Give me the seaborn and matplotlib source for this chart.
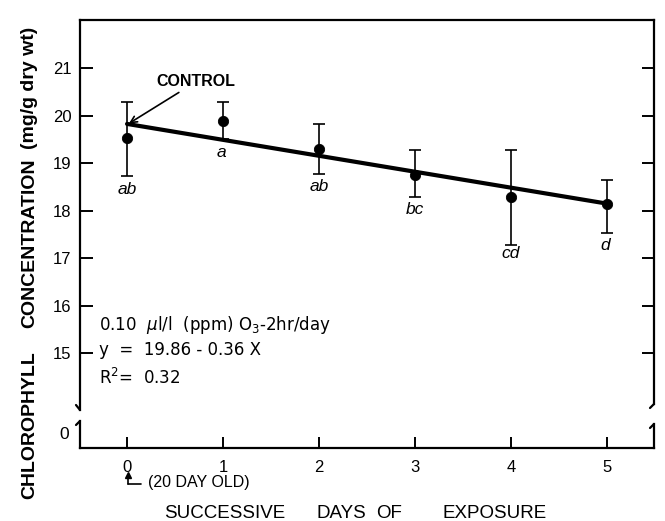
import matplotlib
matplotlib.use("Agg")
import matplotlib.pyplot as plt
from matplotlib.lines import Line2D
import seaborn as sns
import pandas as pd

# ---- data ----
days = [0, 1, 2, 3, 4, 5]
means = [19.54, 19.89, 19.30, 18.76, 18.29, 18.15]
err_hi = [20.30, 20.30, 19.83, 19.27, 19.29, 18.65]
err_lo = [18.74, 19.52, 18.78, 18.29, 17.27, 17.54]
letters = ["ab", "a", "ab", "bc", "cd", "d"]
letter_y = [18.44, 19.22, 18.51, 18.02, 17.09, 17.26]
letter_dx = [0.0, -0.02, 0.0, 0.0, 0.0, -0.02]
fit_x = [0, 5]
fit_y = [19.83, 18.15]
y_ticks = [15, 16, 17, 18, 19, 20, 21]
x_ticks = [0, 1, 2, 3, 4, 5]

sns.set_theme(style="ticks")
plt.rcParams["font.family"] = ["Liberation Sans", "DejaVu Sans"]
plt.rcParams["mathtext.fontset"] = "custom"
plt.rcParams["mathtext.rm"] = "DejaVu Sans"
plt.rcParams["mathtext.it"] = "DejaVu Sans:italic"
for k in ["text.color", "axes.labelcolor", "xtick.color", "ytick.color",
          "axes.edgecolor"]:
    plt.rcParams[k] = "black"

W, H = 665, 521
fig = plt.figure(figsize=(W / 100, H / 100), dpi=100)
fig.patch.set_facecolor("white")

def fx(px):
    return px / W

def fy(py):
    return 1 - py / H

L, R = 80, 654
XLIM = (-0.49, 5.49)

# top (main) axes
ax = fig.add_axes([fx(L), fy(410), fx(R - L), fy(20) - fy(410)])
# bottom (broken) axes
axb = fig.add_axes([fx(L), fy(448), fx(R - L), fy(421) - fy(448)])

df = pd.DataFrame({"day": days, "mean": means})
fit = pd.DataFrame({"day": fit_x, "fit": fit_y})

lo = [m - l for m, l in zip(means, err_lo)]
hi = [h - m for m, h in zip(means, err_hi)]
ax.errorbar(days, means, yerr=[lo, hi], fmt="none", ecolor="black",
            elinewidth=1.2, capsize=4.5, capthick=1.2, zorder=2)
sns.lineplot(data=fit, x="day", y="fit", ax=ax, color="black", lw=3.0,
             zorder=3, legend=False)
sns.scatterplot(data=df, x="day", y="mean", ax=ax, color="black", s=55,
                edgecolor="black", zorder=4, legend=False)

for d, t, yy, dx in zip(days, letters, letter_y, letter_dx):
    ax.text(d + dx, yy, t, ha="center", va="center", fontsize=12.5,
            style="italic", color="black")

ax.set_xlim(*XLIM)
ax.set_ylim(13.8, 22.02)
ax.set_xlabel("")
ax.set_ylabel("")
ax.set_xticks([])
ax.set_yticks(y_ticks)
ax.set_yticklabels([str(v) for v in y_ticks], fontsize=12)
ax.tick_params(axis="y", direction="in", length=9, width=1.4, pad=6,
               right=True, labelright=False, colors="black")
for s in ["left", "right", "top"]:
    ax.spines[s].set_visible(True)
    ax.spines[s].set_linewidth(1.6)
    ax.spines[s].set_color("black")
ax.spines["bottom"].set_visible(False)
ax.spines["right"].set_bounds(13.93, 22.02)

# annotations
ax.annotate("CONTROL", xy=(0.02, 19.84), xytext=(0.31, 20.72),
            fontsize=11.5, fontweight="bold", ha="left", va="center",
            color="black",
            arrowprops=dict(arrowstyle="->", color="black", lw=1.2,
                            shrinkA=0, shrinkB=0,
                            connectionstyle="arc3,rad=0"),
            textcoords="data", xycoords="data")
txt_kw = dict(fontsize=12, ha="left", va="center", family="DejaVu Sans",
              color="black")
ax.text(-0.29, 15.6, "0.10  $\\mu$l/l  (ppm) O$_3$-2hr/day", **txt_kw)
ax.text(-0.29, 15.07, "y  =  19.86 - 0.36 X", **txt_kw)
ax.text(-0.29, 14.47, "R$^2$=  0.32", **txt_kw)

# bottom axes
axb.set_xlim(*XLIM)
axb.set_ylim(-1.5, 1.2)
axb.set_xticks(x_ticks)
axb.set_xticklabels([str(v) for v in x_ticks], fontsize=12)
axb.set_yticks([0])
axb.set_yticklabels(["0"], fontsize=12.5)
axb.tick_params(axis="x", direction="in", length=8, width=1.4, pad=9,
                colors="black")
axb.tick_params(axis="y", length=0, pad=8, colors="black")
axb.set_facecolor("none")
for s in ["left", "right", "bottom"]:
    axb.spines[s].set_linewidth(1.6)
    axb.spines[s].set_color("black")
axb.spines["top"].set_visible(False)
axb.spines["right"].set_bounds(-1.5, 0.9)

# break hooks
hooks = [((L, 410), (L - 4, 405)),
         ((R, 404), (R - 4, 408)),
         ((L, 421), (L - 4, 425)),
         ((R, 424), (R - 4, 428))]
for (x1, y1), (x2, y2) in hooks:
    fig.add_artist(Line2D([fx(x1), fx(x2)], [fy(y1), fy(y2)],
                          color="black", lw=1.6, solid_capstyle="round"))

# 20 DAY OLD marker
fig.add_artist(Line2D([fx(128), fx(128)], [fy(484), fy(475)], color="black",
                      lw=1.2))
fig.add_artist(Line2D([fx(128)], [fy(475)], color="black", marker="^",
                      markersize=4, lw=0))
fig.add_artist(Line2D([fx(128), fx(141)], [fy(484), fy(484)], color="black",
                      lw=1.2))
fig.text(fx(148), fy(483), "(20 DAY OLD)", fontsize=11.5, ha="left",
         va="center", color="black")

# x label words
for word, cx in [("SUCCESSIVE", 225), ("DAYS", 341), ("OF", 389),
                 ("EXPOSURE", 495)]:
    fig.text(fx(cx), fy(513), word, fontsize=13.5, ha="center", va="center",
             color="black")

# y label words
for word, cy in [("CHLOROPHYLL", 425), ("CONCENTRATION", 243),
                 ("(mg/g dry wt)", 88)]:
    fig.text(fx(30), fy(cy), word, fontsize=14, fontweight="bold",
             rotation=90, ha="center", va="center", color="black")

fig.savefig("out.png", dpi=100, facecolor="white")
